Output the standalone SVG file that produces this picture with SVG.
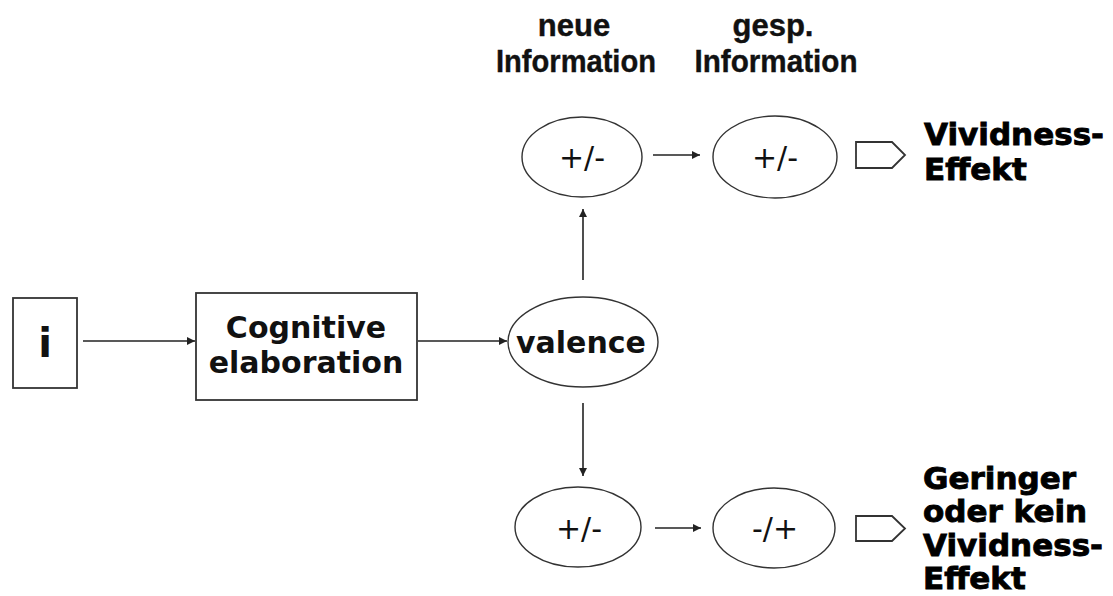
<svg xmlns="http://www.w3.org/2000/svg" width="1113" height="596" viewBox="0 0 1113 596">
<defs>
<style>
.box{fill:#fff;stroke:#333;stroke-width:1.8}
.ell{fill:#fff;stroke:#333;stroke-width:1.4}
.con{stroke:#222;stroke-width:1.6;fill:none}
.bt{font-family:"DejaVu Sans",Verdana,sans-serif;font-weight:bold;fill:#111}
.pm{font-family:"DejaVu Sans",Verdana,sans-serif;font-size:30px;fill:#111;text-anchor:middle}
.hd{font-family:"Liberation Sans",Arial,sans-serif;font-weight:bold;font-size:31px;fill:#111;stroke:#111;stroke-width:0.4;text-anchor:middle}
.out{font-family:"DejaVu Sans",Verdana,sans-serif;font-weight:bold;font-size:31px;fill:#000;stroke:#000;stroke-width:0.9}
</style>
<marker id="ah" viewBox="0 0 10 10" refX="10" refY="5" markerWidth="9" markerHeight="8" markerUnits="userSpaceOnUse" orient="auto">
<path d="M0,0 L10,5 L0,10 z" fill="#222"/>
</marker>
</defs>
<rect width="1113" height="596" fill="#fff"/>

<g id="header">
<text class="hd" x="574" y="36">neue</text>
<text class="hd" x="576" y="72" textLength="160" lengthAdjust="spacingAndGlyphs">Information</text>
<text class="hd" x="773" y="36">gesp.</text>
<text class="hd" x="776" y="72" textLength="163" lengthAdjust="spacingAndGlyphs">Information</text>
</g>

<g id="connectors">
<line class="con" x1="83" y1="341" x2="195" y2="341" marker-end="url(#ah)"/>
<line class="con" x1="418" y1="341" x2="507" y2="341" marker-end="url(#ah)"/>
<line class="con" x1="583" y1="280" x2="583" y2="209" marker-end="url(#ah)"/>
<line class="con" x1="583" y1="403" x2="583" y2="476" marker-end="url(#ah)"/>
<line class="con" x1="653" y1="155" x2="700" y2="155" marker-end="url(#ah)"/>
<line class="con" x1="655" y1="528" x2="701" y2="528" marker-end="url(#ah)"/>
</g>

<g id="node-i">
<rect class="box" x="13" y="298" width="64" height="90"/>
<text class="bt" x="45" y="357" font-size="40" text-anchor="middle">i</text>
</g>

<g id="node-cognitive">
<rect class="box" x="196" y="293" width="221" height="107"/>
<text class="bt" x="306" y="338" font-size="30" text-anchor="middle">Cognitive</text>
<text class="bt" x="306" y="373" font-size="30" text-anchor="middle">elaboration</text>
</g>

<g id="node-valence">
<ellipse class="ell" cx="583" cy="342" rx="75" ry="45"/>
<text class="bt" x="581" y="353" font-size="30" text-anchor="middle">valence</text>
</g>

<g id="node-top-new">
<ellipse class="ell" cx="582" cy="157" rx="60" ry="40"/>
<text class="pm" x="582" y="168">+/-</text>
</g>

<g id="node-top-stored">
<ellipse class="ell" cx="775" cy="157" rx="62" ry="41"/>
<text class="pm" x="775" y="168">+/-</text>
</g>

<g id="node-bottom-new">
<ellipse class="ell" cx="578" cy="527" rx="63" ry="40"/>
<text class="pm" x="579" y="539">+/-</text>
</g>

<g id="node-bottom-stored">
<ellipse class="ell" cx="774" cy="528" rx="61" ry="40"/>
<text class="pm" x="775" y="539">-/+</text>
</g>

<g id="result-top">
<path class="box" stroke-width="1.4" d="M856,142 H892 L905,155 L892,168 H856 Z"/>
<text class="out" x="924" y="145">Vividness-</text>
<text class="out" x="924" y="180">Effekt</text>
</g>

<g id="result-bottom">
<path class="box" stroke-width="1.4" d="M856,516 H892 L905,528.5 L892,541 H856 Z"/>
<text class="out" x="923" y="489">Geringer</text>
<text class="out" x="923" y="522">oder kein</text>
<text class="out" x="923" y="556">Vividness-</text>
<text class="out" x="923" y="589">Effekt</text>
</g>
</svg>
